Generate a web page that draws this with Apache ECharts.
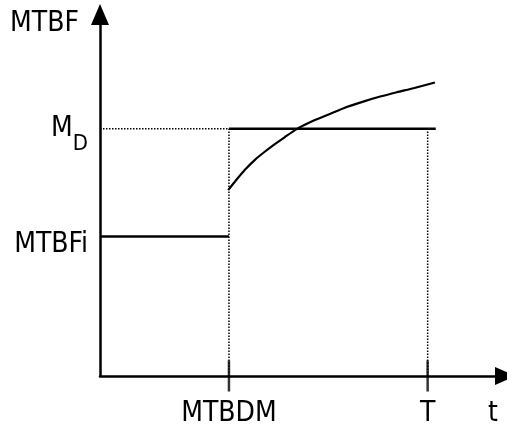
<!DOCTYPE html>
<html>
<head>
<meta charset="utf-8">
<script src="https://cdn.jsdelivr.net/npm/echarts@6/dist/echarts.min.js"></script>
<style>
html,body{margin:0;padding:0;background:#fff;}
#chart{width:507px;height:428px;}
</style>
</head>
<body>
<div id="chart"></div>
<script>
// ---- data ----
const xTickLabels = ['MTBDM', 'T', 't'];
const xTickValues = [3.18, 8.08, 9.69];
const yTickLabels = ['{m|M}{d|D}', '{b|MTBFi}'];
const yTickValues = [6.84, 3.86];
const tMTBDM = 3.18;
const tT = 8.08;
const tEnd = 8.28;
const valueMD = 6.84;
const valueMTBFi = 3.86;
const curveT =    [3.16, 3.33, 3.58, 3.82, 4.07, 4.32, 4.56, 4.85, 5.30, 5.80, 6.08, 6.49, 6.91, 7.32, 7.73, 8.26];
const curveMTBF = [5.14, 5.38, 5.71, 5.98, 6.21, 6.42, 6.61, 6.83, 7.08, 7.31, 7.44, 7.59, 7.73, 7.85, 7.96, 8.12];

const FONT = '"DejaVu Sans Condensed", "Liberation Sans Narrow", sans-serif';
const FS = 28;
const chart = echarts.init(document.getElementById('chart'), null, {renderer: 'canvas'});

const solid = {color: '#000', width: 2.5, type: 'solid'};
const dotted = {color: '#000', width: 1.5, type: [1.5, 1.5]};

const option = {
  animation: false,
  backgroundColor: '#fff',
  grid: {left: 100, right: 1.5, top: 14.5, bottom: 51, containLabel: false},
  xAxis: {
    type: 'value', min: 0, max: 10,
    splitLine: {show: false},
    axisTick: {show: false},
    axisLine: {show: true, lineStyle: {color: '#000', width: 2.5}, symbol: ['none', 'triangle'], symbolSize: [18, 21]},
    axisLabel: {
      customValues: xTickValues,
      formatter: function (v) {
        const i = xTickValues.findIndex(x => Math.abs(x - v) < 1e-6);
        return i >= 0 ? xTickLabels[i] : '';
      },
      color: '#000', fontFamily: FONT, fontSize: FS, margin: 24
    }
  },
  yAxis: {
    type: 'value', min: 0, max: 10,
    name: 'MTBF', nameLocation: 'end', nameGap: -9,
    nameTextStyle: {color: '#000', fontFamily: FONT, fontSize: FS, align: 'right', verticalAlign: 'middle', padding: [0, 21, 0, 0]},
    splitLine: {show: false},
    axisTick: {show: false},
    axisLine: {show: true, lineStyle: {color: '#000', width: 2.5}, symbol: ['none', 'triangle'], symbolSize: [18, 21]},
    axisLabel: {
      customValues: yTickValues,
      formatter: function (v) {
        const i = yTickValues.findIndex(x => Math.abs(x - v) < 1e-6);
        return i >= 0 ? yTickLabels[i] : '';
      },
      color: '#000', fontFamily: FONT, fontSize: FS, margin: 12,
      rich: {
        m: {fontSize: FS, lineHeight: 54, fontFamily: FONT, color: '#000'},
        d: {fontSize: 22, lineHeight: 44, verticalAlign: 'bottom', fontFamily: FONT, color: '#000'},
        b: {fontSize: FS, fontFamily: FONT, color: '#000', padding: [16, 0, 0, 0]}
      }
    }
  },
  series: [
    {type: 'line', symbol: 'none', lineStyle: solid, data: [[0, valueMTBFi], [tMTBDM, valueMTBFi]]},
    {type: 'line', symbol: 'none', lineStyle: solid, data: [[tMTBDM, valueMD], [tEnd, valueMD]]},
    {type: 'line', symbol: 'none', lineStyle: dotted, data: [[0, valueMD], [tMTBDM, valueMD]]},
    {type: 'line', symbol: 'none', lineStyle: dotted, data: [[tMTBDM, 0], [tMTBDM, valueMD]]},
    {type: 'line', symbol: 'none', lineStyle: dotted, data: [[tT, 0], [tT, valueMD]]},
    {type: 'line', symbol: 'none', smooth: 0.2, lineStyle: {color: '#000', width: 2.2, join: 'round'},
      data: curveT.map((t, i) => [t, curveMTBF[i]])},
    {type: 'scatter', symbol: 'rect', symbolSize: [2.5, 31], itemStyle: {color: '#000'},
      data: [[tMTBDM, 0], [tT, 0]], z: 5}
  ]
};
chart.setOption(option);
</script>
</body>
</html>
